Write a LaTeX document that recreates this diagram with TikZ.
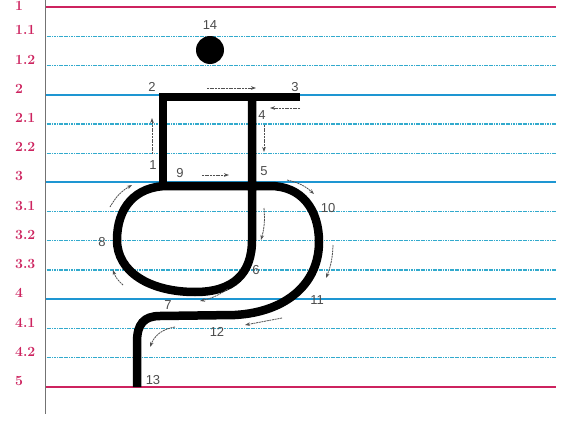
\documentclass[tikz,border=0pt]{standalone}
\usepackage{fontspec}
\newfontfamily\numfont{Liberation Sans}
\usetikzlibrary{arrows.meta}

\definecolor{rulered}{RGB}{205,35,95}
\definecolor{ruleblue}{RGB}{30,150,210}
\definecolor{ruledot}{RGB}{50,170,205}
\definecolor{hintgray}{RGB}{80,80,80}

\tikzset{
  redline/.style={rulered, line width=1.8pt},
  mainline/.style={ruleblue, line width=1.8pt},
  dotline/.style={ruledot, line width=1.3pt, dash pattern=on 1.2pt off 0.5pt},
  levellabel/.style={rulered, font=\fontsize{14}{14}\selectfont\bfseries, anchor=west, inner sep=0pt},
  letterstroke/.style={line width=8.5pt, line join=miter},
  steplabel/.style={text=black!70, font=\numfont\fontsize{13}{13}\selectfont, inner sep=0pt},
  hint/.style={hintgray, line width=0.8pt, dash pattern=on 2pt off 0.7pt, -{Stealth[length=5pt,width=3.6pt]}}
}

\begin{document}
\begin{tikzpicture}[x=1pt,y=-1pt]
\useasboundingbox (0,0) rectangle (571,423);

% Ruled lines and level labels
\foreach \k/\lab/\sty in {0/1/redline,1/1.1/dotline,2/1.2/dotline,3/2/mainline,4/2.1/dotline,5/2.2/dotline,6/3/mainline,7/3.1/dotline,8/3.2/dotline,9/3.3/dotline,10/4/mainline,11/4.1/dotline,12/4.2/dotline,13/5/redline}{
  \draw[\sty] (45,{7+29.23*\k}) -- (556,{7+29.23*\k});
  \node[levellabel] (lv\k) at (15,{max(6,1+29.23*\k)}) {\lab};
}

% Margin line
\draw[black!55, line width=1pt] (45,0) -- (45,414);

% Dot
\node[circle, fill=black, minimum size=28pt, inner sep=0pt] (dot) at (210,50) {};

% Box of the letter
\draw[letterstroke] (163,186) -- (163,97) -- (300,97);

% Loop, bowl and tail
\draw[letterstroke] (252,97) -- (252,240)
  .. controls (252,274) and (233,292) .. (195,292)
  .. controls (150,292) and (117,272) .. (117,240)
  .. controls (117,208) and (135,186) .. (168,186)
  -- (270,186)
  .. controls (302,186) and (319,210) .. (319,242)
  .. controls (319,283) and (287,312) .. (235,315)
  -- (160,316)
  .. controls (144,316) and (137,324) .. (137,342)
  -- (137,387);

% Stroke order numbers
\node[steplabel] (n1) at (153,165) {1};
\node[steplabel] (n2) at (152,87) {2};
\node[steplabel] (n3) at (295,87) {3};
\node[steplabel] (n4) at (262,115) {4};
\node[steplabel] (n5) at (264,171) {5};
\node[steplabel] (n6) at (256,270) {6};
\node[steplabel] (n7) at (168,305) {7};
\node[steplabel] (n8) at (102,242) {8};
\node[steplabel] (n9) at (180,173) {9};
\node[steplabel] (n10) at (328,208) {10};
\node[steplabel] (n11) at (317,300) {11};
\node[steplabel] (n12) at (217,332) {12};
\node[steplabel] (n13) at (153,380) {13};
\node[steplabel] (n14) at (210,25) {14};

% Direction hints
\draw[hint] (152,154) -- (152,118);
\draw[hint] (207,88) -- (256,88);
\draw[hint] (300,108) -- (270,108);
\draw[hint] (264,125) -- (264,152);
\draw[hint] (202,175) -- (229,175);
\draw[hint] (287,180) to[bend left=15] (314,194);
\draw[hint] (264,208) to[bend left=10] (261,240);
\draw[hint] (333,245) to[bend left=10] (326,278);
\draw[hint] (228,289) to[bend left=10] (200,301);
\draw[hint] (282,318) -- (245,325);
\draw[hint] (175,327) to[bend right=30] (150,347);
\draw[hint] (110,207) to[bend left=15] (132,185);
\draw[hint] (123,285) to[bend left=15] (113,270);

\end{tikzpicture}
\end{document}
